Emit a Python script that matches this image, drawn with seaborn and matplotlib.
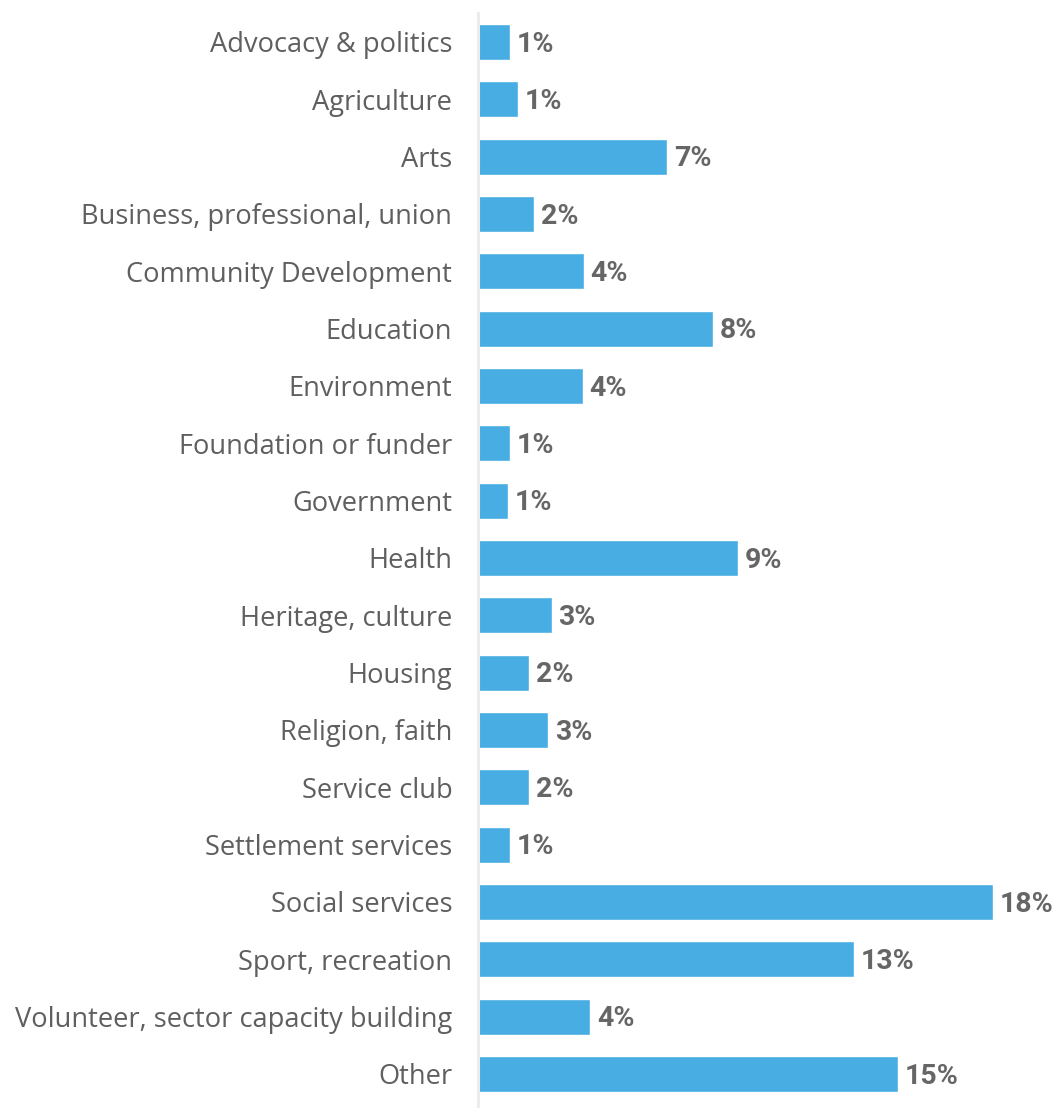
import math
import matplotlib
matplotlib.use("Agg")
import matplotlib.pyplot as plt
import seaborn as sns
import pandas as pd

# Share of organisations by primary sector (%)
sectors = [
    "Advocacy & politics",
    "Agriculture",
    "Arts",
    "Business, professional, union",
    "Community Development",
    "Education",
    "Environment",
    "Foundation or funder",
    "Government",
    "Health",
    "Heritage, culture",
    "Housing",
    "Religion, faith",
    "Service club",
    "Settlement services",
    "Social services",
    "Sport, recreation",
    "Volunteer, sector capacity building",
    "Other",
]
shares = [1.13, 1.42, 6.74, 1.99, 3.77, 8.38, 3.74, 1.13, 1.06, 9.27,
          2.63, 1.81, 2.50, 1.81, 1.14, 18.40, 13.43, 4.00, 15.00]

df = pd.DataFrame({"sector": sectors, "share": shares})

sns.set_theme(style="white")
plt.rcParams["font.family"] = ["Roboto", "DejaVu Sans"]

BAR_COLOR = "#48ADE2"
TICK_COLOR = "#5f5f5f"
VALUE_COLOR = "#666666"

W, H = 1055, 1108
fig = plt.figure(figsize=(W / 100, H / 100), dpi=100)
ax = fig.add_axes([478 / W, 0, 1 - 478 / W, 1094.7 / H])

sns.barplot(data=df, x="share", y="sector", order=sectors, color=BAR_COLOR,
            saturation=1, width=0.63, ax=ax)

ax.set_xlim(0, 577 / 28.0)
ax.set_ylim(len(sectors) - 0.5 + 0.094, -0.5)
ax.set_xlabel("")
ax.set_ylabel("")
ax.set_xticks([])
ax.tick_params(axis="y", length=0, pad=18.5)
for lbl in ax.get_yticklabels():
    lbl.set_fontfamily(["Open Sans", "DejaVu Sans"])
    lbl.set_fontsize(19.6)
    lbl.set_color(TICK_COLOR)

for side in ("top", "right", "bottom"):
    ax.spines[side].set_visible(False)
ax.spines["left"].set_color("#ececec")
ax.spines["left"].set_linewidth(2.2)

for i, v in enumerate(shares):
    ax.annotate(f"{math.floor(v + 0.5)}%", xy=(v, i), xytext=(5, -7.0),
                textcoords="offset points", ha="left", va="baseline",
                fontsize=20.5, fontweight="bold", color=VALUE_COLOR)

fig.savefig("out.png", dpi=100, facecolor="white")
